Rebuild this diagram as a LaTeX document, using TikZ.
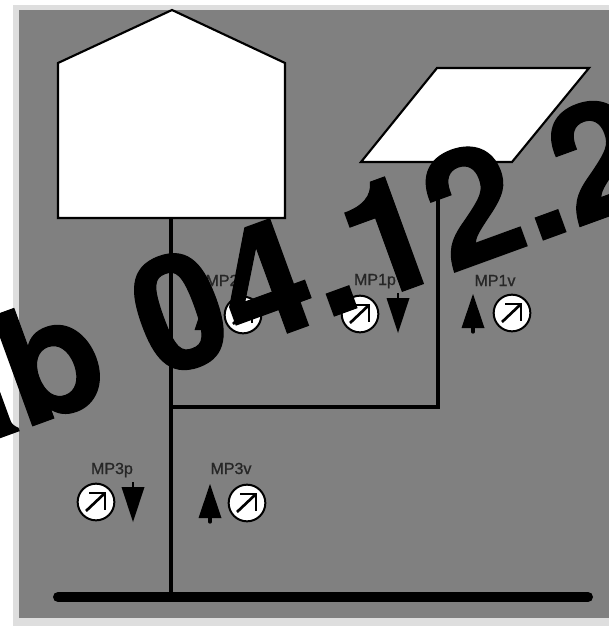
\documentclass[tikz,border=0pt]{standalone}
\usepackage{fontspec}
\setmainfont{Liberation Sans}
\newfontfamily\stampfont[BoldFeatures={FakeBold=0.7}]{TeX Gyre Heros}
\newfontfamily\tagfont[FakeBold=1]{Liberation Sans}
\usetikzlibrary{calc, positioning}
\tikzset{
  tank/.style={draw=black, line width=1.6pt, fill=white, line join=miter},
  pipe/.style={draw=black, line width=2.3pt},
  gauge/.style={circle, draw=black, line width=1.5pt, fill=white, minimum size=27.5pt, inner sep=0pt},
  tag/.style={font=\tagfont\fontsize{12}{12}\selectfont, text=black!85, inner sep=0pt, anchor=base},
  flow/.style={fill=black, draw=none},
}
\begin{document}
\begin{tikzpicture}[x=0.75pt, y=-0.75pt]
  \useasboundingbox (0,0) rectangle (609,628);
  \clip (0,0) rectangle (609,628);
  % frame and panel
  \fill[white] (0,0) rectangle (609,628);
  \fill[black!13] (13,5) rectangle (609,626);
  \fill[black!50] (19,10) rectangle (609,618);
  % storage and field
  \draw[tank] (58,63) -- (172,10) -- (285,63) -- (285,218) -- (58,218) -- cycle;
  \draw[tank] (361,162) -- (437,68) -- (589,68) -- (512,162) -- cycle;
  % pipes
  \coordinate (house) at (171,218);
  \coordinate (field) at (438,162);
  \coordinate (tee) at (171,407);
  \coordinate (knee) at (438,407);
  \coordinate (busl) at (58,597);
  \coordinate (busr) at (588,597);
  \coordinate (drop) at (171,597);
  \draw[pipe] (house) -- (drop);
  \draw[pipe] (tee) -- (knee) -- (field);
  \draw[draw=black, line width=7.5pt, line cap=round] (busl) -- (busr);
  % gauges with their labels
  \foreach \nam/\xc/\yc/\lab/\lx/\ly in {mptwo/243/315/MP2v/226/286, mponep/360/314/MP1p/375/285, mponev/512/313/MP1v/495/286, mpthreep/96/502/MP3p/112/474, mpthreev/247/503/MP3v/231/474} {
    \node[gauge] (\nam) at (\xc,\yc) {};
    \node[tag] (\nam lab) at (\lx,\ly) {\lab};
    \draw[black, line width=2pt, shift={(\xc,\yc)}] (-10,9) -- (9,-9);
    \draw[black, line width=2pt, shift={(\xc,\yc)}] (-7,-9) -- (9,-9) -- (9,8);
  }
  % pressure arrows, down
  \foreach \xc/\yc in {398/298, 133/487} {
    \fill[flow] (\xc-11.5,\yc) -- (\xc+11.5,\yc) -- (\xc,\yc+35) -- cycle;
    \draw[black, line width=1.5pt] (\xc,\yc-5) -- (\xc,\yc+1);
  }
  % pressure arrows, up
  \foreach \xc/\yc in {206/330, 473/328, 210/518} {
    \fill[flow] (\xc-11.5,\yc) -- (\xc+11.5,\yc) -- (\xc,\yc-34) -- cycle;
    \draw[black, line width=2.5pt, line cap=round] (\xc,\yc-1) -- (\xc,\yc+4);
  }
  % date stamp over everything
  \node[anchor=base west, inner sep=0pt, rotate=20, text=black, font=\stampfont\bfseries\fontsize{120}{120}\selectfont] (stamp) at (-60,459.5) {ab 04.12.2};
\end{tikzpicture}
\end{document}
